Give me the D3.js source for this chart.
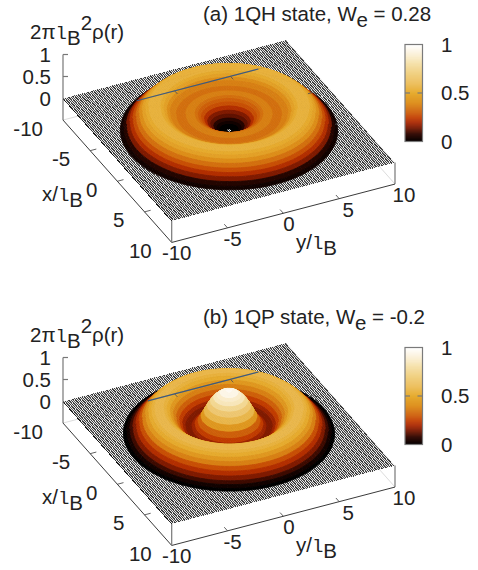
<!DOCTYPE html>
<html>
<head>
<meta charset="utf-8">
<script src="https://d3js.org/d3.v7.min.js"></script>
<style>
  html, body { margin: 0; padding: 0; background: #fff; }
  text { font-family: "Liberation Sans", Arial, sans-serif; fill: #222; }
</style>
</head>
<body>
<div id="chart"></div>
<script>
// radial density profiles
var radii = [0, .25, .5, .75, 1, 1.25, 1.5, 1.75, 2, 2.25, 2.5, 2.75, 3, 3.25, 3.5, 3.75, 4, 4.25, 4.5,
             4.75, 5, 5.25, 5.5, 5.75, 6, 6.25, 6.5, 6.75, 7, 7.25, 7.5, 7.75, 8, 8.25, 8.5, 8.75, 9];
var rhoQH = [0, 0, .01, .02, .05, .09, .14, .19, .25, .30, .34, .37, .38, .375, .36, .35, .345, .35, .37,
             .40, .44, .48, .51, .53, .54, .54, .52, .48, .43, .37, .30, .24, .18, .11, .04, 0, 0];
var rhoQP = [.96, .955, .94, .91, .86, .80, .72, .62, .50, .38, .27, .20, .15, .14, .16, .21, .28, .35, .42,
             .48, .53, .56, .57, .56, .54, .51, .46, .40, .33, .26, .19, .12, .07, .02, 0, 0, 0];

var xyTicks = [-10, -5, 0, 5, 10];
var zTicks = [0, 0.5, 1];
var cbTicks = [0, 0.5, 1];

var paletteStops = [0, .08, .15, .2, .25, .3, .4, .5, .6, .7, .8, .9, 1];
var paletteColors = ["#000000", "#2e0600", "#7a1800", "#a82600", "#c23c00", "#cc5a08", "#dc8c18", "#e6ab2e",
                     "#edc060", "#f0cf80", "#f5e0a8", "#fbf0d8", "#ffffff"];

var width = 478, height = 570;
var meshStep = 0.17, crossStep = 0.2, sectors = 120, colorLevels = 32, baseZ = -0.49;
var fontSize = 20.5;

var svg = d3.select("#chart").append("svg")
    .attr("width", width)
    .attr("height", height)
    .style("display", "block");

// oblique projection, one linear scale per screen contribution
var xToSx = d3.scaleLinear().domain([-10, 10]).range([-54.35, 54.35]);
var xToSy = d3.scaleLinear().domain([-10, 10]).range([-61.2, 61.2]);
var yToSx = d3.scaleLinear().domain([-10, 10]).range([-111.65, 111.65]);
var yToSy = d3.scaleLinear().domain([-10, 10]).range([29.2, -29.2]);
var zToSy = d3.scaleLinear().domain([0, 1]).range([0, -44]);
var color = d3.scaleLinear().domain(paletteStops).range(paletteColors);

function project(x, y, z) {
  return [229 + xToSx(x) + yToSx(y), 130.5 + xToSy(x) + yToSy(y) + zToSy(z)];
}

function lineBetween(g, a, b, stroke, w, op) {
  g.append("line")
    .attr("x1", a[0]).attr("y1", a[1])
    .attr("x2", b[0]).attr("y2", b[1])
    .attr("stroke", stroke)
    .attr("stroke-width", w)
    .attr("opacity", op === undefined ? 1 : op);
}

function drawLabel(g, x, y, parts) {
  var t = g.append("text").attr("x", x).attr("y", y).attr("font-size", fontSize);
  parts.forEach(function(p) {
    var s = t.append("tspan").text(p.t);
    if (p.dy) s.attr("dy", p.dy);
    if (p.mono) s.style("font-family", "'Liberation Mono', monospace").attr("font-size", 19);
  });
  return t;
}

function lB() {
  return [{t: "l", mono: true}, {t: "B", dy: 6}];
}

function drawPanel(offsetY, rho, title, rearSpan) {
  var g = svg.append("g").attr("transform", "translate(0," + offsetY + ")");

  // floor: mesh lines along x, aliased on purpose so they beat against the pixel grid
  var floorPath = d3.path(), crossPath = d3.path();
  d3.range(-10, 10.001, meshStep).forEach(function(v) {
    var a = project(-10, v, 0), b = project(10, v, 0);
    floorPath.moveTo(a[0], a[1]); floorPath.lineTo(b[0], b[1]);
  });
  d3.range(-10, 10.001, crossStep).forEach(function(v) {
    var a = project(v, -10, 0), b = project(v, 10, 0);
    crossPath.moveTo(a[0], a[1]); crossPath.lineTo(b[0], b[1]);
  });
  var c = [project(-10, -10, 0), project(-10, 10, 0), project(10, 10, 0), project(10, -10, 0)];
  g.append("polygon").attr("points", c.join(" ")).attr("fill", "#fff");
  g.append("path").attr("d", floorPath.toString())
    .attr("fill", "none").attr("stroke", "#000").attr("stroke-width", 1)
    .attr("shape-rendering", "crispEdges");
  g.append("path").attr("d", crossPath.toString())
    .attr("fill", "none").attr("stroke", "#fff").attr("stroke-width", 0.35);
  g.append("polygon").attr("points", c.join(" ")).attr("fill", "#808080").attr("opacity", 0.18);

  // surface cells, back to front
  var cells = [];
  d3.range(radii.length - 1).forEach(function(i) {
    if (rho[i] === 0 && rho[i + 1] === 0) return;
    d3.range(sectors).forEach(function(j) {
      var a0 = j / sectors * 2 * Math.PI, a1 = (j + 1) / sectors * 2 * Math.PI;
      var r0 = radii[i], r1 = radii[i + 1], rm = (r0 + r1) / 2, am = (a0 + a1) / 2;
      var floorPt = project(rm * Math.cos(am), rm * Math.sin(am), 0);
      cells.push({
        depth: floorPt[1],
        v: (rho[i] + rho[i + 1]) / 2,
        pts: [
          project(r0 * Math.cos(a0), r0 * Math.sin(a0), rho[i]),
          project(r1 * Math.cos(a0), r1 * Math.sin(a0), rho[i + 1]),
          project(r1 * Math.cos(a1), r1 * Math.sin(a1), rho[i + 1]),
          project(r0 * Math.cos(a1), r0 * Math.sin(a1), rho[i])
        ]
      });
    });
  });
  cells.sort(function(a, b) { return a.depth - b.depth; });
  g.append("g").selectAll("polygon")
    .data(cells)
    .enter()
    .append("polygon")
      .attr("points", function(d) { return d.pts.map(function(p) { return p[0].toFixed(1) + "," + p[1].toFixed(1); }).join(" "); })
      .attr("fill", function(d) { return color(Math.round(d.v * colorLevels) / colorLevels); })
      .attr("stroke", function(d) { return color(Math.round(d.v * colorLevels) / colorLevels); })
      .attr("stroke-width", 0.8);

  // base box
  var axisCol = "#3a3a3a", sideCol = "#777";
  lineBetween(g, project(-10, -10, baseZ), project(10, -10, baseZ), axisCol, 1);
  lineBetween(g, project(10, -10, baseZ), project(10, 10, baseZ), axisCol, 1);
  lineBetween(g, project(-10, -10, baseZ), project(-10, -10, 0), sideCol, 1.2);
  lineBetween(g, project(10, -10, baseZ), project(10, -10, 0), sideCol, 1.2);
  lineBetween(g, project(10, 10, baseZ), project(10, 10, 0), sideCol, 1.2);

  // rear edges only show faintly through the floor
  lineBetween(g, project(-10, -10, baseZ), project(-10, 10, baseZ), "#222", 0.7, 0.22);
  lineBetween(g, project(-10, 10, baseZ), project(10, 10, baseZ), "#222", 0.7, 0.22);
  lineBetween(g, project(-10, 10, baseZ), project(-10, 10, 0), "#222", 0.7, 0.3);
  // ...and the rear edge is drawn on top where the surface covers it
  lineBetween(g, project(-10, rearSpan[0], baseZ), project(-10, rearSpan[1], baseZ), "#3d5a80", 1.1);

  // tics
  xyTicks.slice(1, 4).forEach(function(t) {
    lineBetween(g, project(t, -10, baseZ), project(t, -9.45, baseZ), axisCol, 0.8);
    lineBetween(g, project(10, t, baseZ), project(9.4, t, baseZ), axisCol, 0.8);
  });
  [0, 5].forEach(function(t) {
    lineBetween(g, project(-10, t, baseZ), project(-9.5, t, baseZ), "#555", 0.9);
  });
  [-5, 0].forEach(function(t) {
    lineBetween(g, project(t, 10, baseZ), project(t, 9.5, baseZ), "#555", 0.9);
  });

  // z axis
  var zTop = project(-10, -10, 1);
  lineBetween(g, project(-10, -10, 0), zTop, sideCol, 1.2);
  zTicks.slice(1).forEach(function(t) {
    var p = project(-10, -10, t);
    lineBetween(g, p, [p[0] + 5, p[1]], sideCol, 1.2);
  });
  g.selectAll(".ztick").data(zTicks).enter().append("text")
    .attr("class", "ztick")
    .attr("x", 51)
    .attr("y", function(d) { return project(-10, -10, d)[1] + 7; })
    .attr("text-anchor", "end")
    .attr("font-size", fontSize)
    .text(function(d) { return d; });

  // xy tic labels sit along the two front edges
  g.selectAll(".xtick").data(xyTicks).enter().append("text")
    .attr("class", "xtick")
    .attr("x", function(d) { return project(d, -10, baseZ)[0] - 20; })
    .attr("y", function(d) { return project(d, -10, baseZ)[1] + 15.5; })
    .attr("text-anchor", "end")
    .attr("font-size", fontSize)
    .text(function(d) { return d; });
  g.selectAll(".ytick").data(xyTicks).enter().append("text")
    .attr("class", "ytick")
    .attr("x", function(d) { return project(10, d, baseZ)[0] + (d < 0 ? 5 : d === 0 ? 5.5 : 9); })
    .attr("y", function(d) { return project(10, d, baseZ)[1] + 18; })
    .attr("text-anchor", "middle")
    .attr("font-size", fontSize)
    .text(function(d) { return d; });

  // axis titles
  drawLabel(g, 30, 39, [{t: "2\u03c0"}].concat(lB(), [{t: "2", dy: -15}, {t: "\u03c1(r)", dy: 9}]));
  drawLabel(g, 42, 201, [{t: "x/"}].concat(lB()));
  drawLabel(g, 296, 249, [{t: "y/"}].concat(lB()));

  // title
  drawLabel(g, title.x, 20.5, [{t: title.head}, {t: "e", dy: 6}, {t: title.tail, dy: -6}]);

  // colour bar
  var cbX = 405, cbW = 17.5, cbTop = 44.5, cbBottom = 141.5;
  var cbY = d3.scaleLinear().domain([0, 1]).range([cbBottom, cbTop]);
  g.append("g").selectAll("rect")
    .data(d3.range(0, colorLevels * 3))
    .enter()
    .append("rect")
      .attr("x", cbX)
      .attr("width", cbW)
      .attr("y", function(d) { return cbY((d + 1) / (colorLevels * 3)); })
      .attr("height", (cbBottom - cbTop) / (colorLevels * 3) + 0.5)
      .attr("fill", function(d) { return color((d + 0.5) / (colorLevels * 3)); });
  g.append("rect")
    .attr("x", cbX).attr("y", cbTop)
    .attr("width", cbW).attr("height", cbBottom - cbTop)
    .attr("fill", "none").attr("stroke", "#7a7a7a").attr("stroke-width", 1.2);
  var mid = cbY(0.5);
  lineBetween(g, [cbX, mid], [cbX + 5, mid], "#7a7a7a", 1.2);
  lineBetween(g, [cbX + cbW - 5, mid], [cbX + cbW, mid], "#7a7a7a", 1.2);
  g.selectAll(".cbtick").data(cbTicks).enter().append("text")
    .attr("class", "cbtick")
    .attr("x", 441)
    .attr("y", function(d) { return cbY(d) + 7; })
    .attr("font-size", fontSize)
    .text(function(d) { return d; });
}

drawPanel(0, rhoQH, {x: 203, head: "(a) 1QH state, W", tail: " = 0.28"}, [-3.4, 7.5]);
drawPanel(303, rhoQP, {x: 203, head: "(b) 1QP state, W", tail: " = -0.2"}, [-2.4, 7.5]);
</script>
</body>
</html>
